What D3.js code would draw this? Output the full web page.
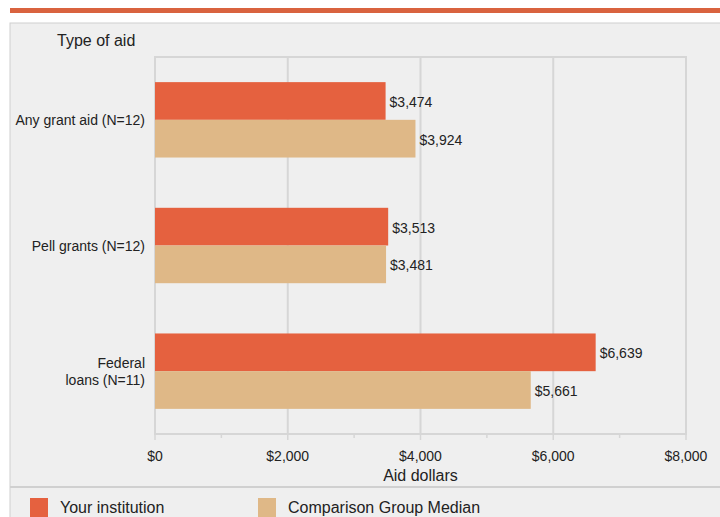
<!DOCTYPE html>
<html>
<head>
<meta charset="utf-8">
<script src="https://cdn.jsdelivr.net/npm/d3@7"></script>
<style>
  body { margin: 0; background: #fff; }
  text { font-family: "Liberation Sans", Arial, sans-serif; fill: #222; }
</style>
</head>
<body>
<script>
var categories = [["Any grant aid (N=12)"], ["Pell grants (N=12)"], ["Federal", "loans (N=11)"]];
var yourInstitution = [3474, 3513, 6639];
var comparisonMedian = [3924, 3481, 5661];
var seriesNames = ["Your institution", "Comparison Group Median"];
var seriesColors = ["#e5613f", "#dfb887"];
var xTicks = [0, 2000, 4000, 6000, 8000];

var w = 720, h = 517;
var svg = d3.select("body").append("svg").attr("width", w).attr("height", h);

// top stripe and panel
svg.append("rect").attr("x", 10).attr("y", 8).attr("width", 710).attr("height", 5).attr("fill", "#d9633f");
svg.append("rect").attr("x", 10).attr("y", 23).attr("width", 712).attr("height", 500)
  .attr("fill", "#efefef").attr("stroke", "#d0d0d0").attr("stroke-width", 1);

var pLeft = 155, pRight = 686, pTop = 57, pBottom = 434;

var x = d3.scaleLinear().domain([0, 8000]).range([pLeft, pRight]);
var y = d3.scaleBand().domain(d3.range(categories.length)).range([pTop, pBottom]).paddingInner(0.4).paddingOuter(0.2);

// frame + gridlines
svg.append("rect").attr("x", pLeft).attr("y", pTop).attr("width", pRight - pLeft).attr("height", pBottom - pTop)
  .attr("fill", "none").attr("stroke", "#d6d6d6").attr("stroke-width", 2);
svg.selectAll(".grid").data(xTicks.slice(1, -1)).enter().append("line")
  .attr("x1", d => x(d)).attr("x2", d => x(d)).attr("y1", pTop).attr("y2", pBottom)
  .attr("stroke", "#d6d6d6").attr("stroke-width", 2);

// minor ticks
svg.selectAll(".minor").data(d3.range(0, 8001, 1000)).enter().append("line")
  .attr("x1", d => x(d)).attr("x2", d => x(d)).attr("y1", pBottom).attr("y2", d => pBottom + (d % 2000 === 0 ? 6 : 4))
  .attr("stroke", "#d6d6d6").attr("stroke-width", 1.5);

// x tick labels
svg.selectAll(".xt").data(xTicks).enter().append("text")
  .attr("x", d => x(d)).attr("y", 461).attr("text-anchor", "middle").attr("font-size", 14)
  .text(d => d3.format("$,")(d));

svg.append("text").attr("x", (pLeft + pRight) / 2).attr("y", 481).attr("text-anchor", "middle")
  .attr("font-size", 16).text("Aid dollars");
svg.append("text").attr("x", 57).attr("y", 46).attr("font-size", 16).text("Type of aid");

// bars
var sub = d3.scaleBand().domain([0, 1]).range([0, y.bandwidth()]);
var series = [yourInstitution, comparisonMedian];
series.forEach(function(vals, si) {
  var g = svg.append("g");
  g.selectAll("rect").data(vals).enter().append("rect")
    .attr("x", x(0)).attr("y", (d, i) => y(i) + sub(si))
    .attr("width", d => x(d) - x(0)).attr("height", sub.bandwidth())
    .attr("fill", seriesColors[si]);
  g.selectAll("text").data(vals).enter().append("text")
    .attr("x", d => x(d) + 4).attr("y", (d, i) => y(i) + sub(si) + sub.bandwidth() / 2 + 6)
    .attr("font-size", 14).text(d => d3.format("$,")(d));
});

// category labels
categories.forEach(function(lines, i) {
  var cy = y(i) + y.bandwidth() / 2;
  var t = svg.append("text").attr("text-anchor", "end").attr("font-size", 14);
  lines.forEach(function(l, k) {
    t.append("tspan").attr("x", 145).attr("y", cy + 5.5 + (k - (lines.length - 1) / 2) * 17).text(l);
  });
});

// legend
svg.append("line").attr("x1", 10).attr("x2", 720).attr("y1", 487).attr("y2", 487)
  .attr("stroke", "#d0d0d0").attr("stroke-width", 2);
var lx = [30, 258];
seriesNames.forEach(function(n, i) {
  svg.append("rect").attr("x", lx[i]).attr("y", 498).attr("width", 18).attr("height", 20).attr("fill", seriesColors[i]);
  svg.append("text").attr("x", lx[i] + 30).attr("y", 513).attr("font-size", 16).text(n);
});
</script>
</body>
</html>
